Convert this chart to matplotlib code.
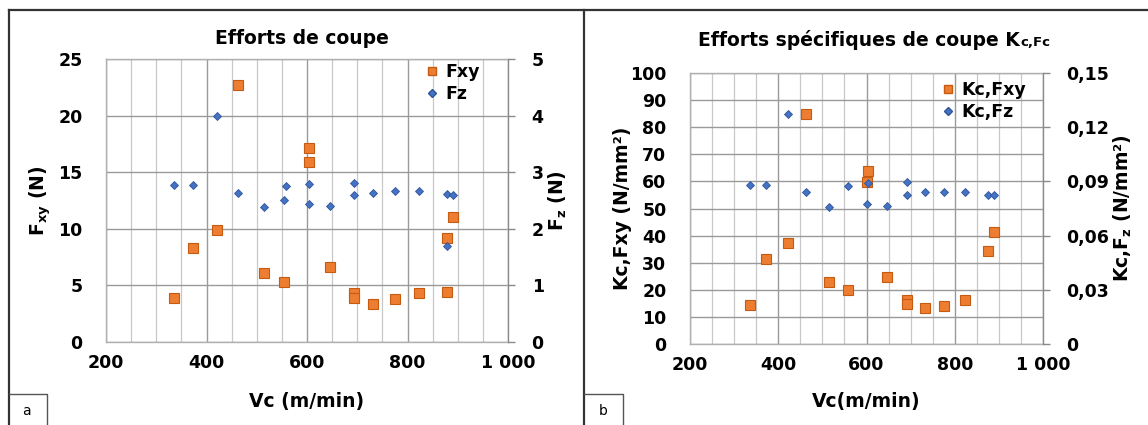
import numpy as np
import matplotlib
matplotlib.use("Agg")
import matplotlib.pyplot as plt
from matplotlib.ticker import FuncFormatter, MultipleLocator
from matplotlib.lines import Line2D

plt.rcParams['font.family'] = ['DejaVu Sans']
plt.rcParams['font.weight'] = 'bold'
plt.rcParams['axes.labelweight'] = 'bold'

# --- a) efforts de coupe
vc_fxy = [336, 373, 421, 463, 514, 555, 603, 603, 646, 693, 693, 732, 776, 823, 878, 879, 890]
fxy = [3.9, 8.3, 9.9, 22.7, 6.1, 5.3, 15.9, 17.1, 6.6, 4.3, 3.9, 3.4, 3.8, 4.3, 4.4, 9.2, 11.0]
vc_fz = [336, 373, 421, 463, 514, 555, 558, 603, 603, 646, 693, 693, 732, 776, 823, 878, 891, 878]
fz = [2.78, 2.78, 4.0, 2.64, 2.38, 2.51, 2.75, 2.79, 2.44, 2.40, 2.81, 2.59, 2.64, 2.66, 2.66, 2.61, 2.60, 1.69]

# --- b) efforts specifiques
vc_k = [336, 372, 422, 463, 514, 557, 601, 603, 646, 692, 692, 733, 776, 824, 876, 889]
kc_fxy = [14.4, 31.5, 37.2, 84.9, 22.8, 19.8, 59.7, 64.0, 24.8, 16.2, 14.6, 13.1, 14.2, 16.2, 34.3, 41.2]
vc_kz = [336, 372, 422, 463, 514, 557, 603, 601, 646, 692, 692, 733, 776, 824, 876, 889]
kc_fz = [0.0881, 0.0881, 0.1274, 0.0839, 0.0756, 0.0872, 0.0889, 0.0777, 0.0762, 0.0894, 0.0824,
         0.0839, 0.0843, 0.0843, 0.0822, 0.0822]

ORANGE = '#ED7D31'
ORANGE_E = '#C55A11'
BLUE = '#4472C4'
BLUE_E = '#2F5597'
FS = 12.5
LFS = 13.5

W, H = 1148, 425
fig = plt.figure(figsize=(W / 100, H / 100), dpi=100)


def px_axes(x0, x1, ytop, ybot):
    return fig.add_axes([x0 / W, (H - ybot) / H, (x1 - x0) / W, (ybot - ytop) / H])


def thousands(v, pos):
    v = int(round(v))
    if v >= 1000:
        return '%d %03d' % (v // 1000, v % 1000)
    return str(v)


def bold_ticks(ax):
    for lab in ax.get_xticklabels() + ax.get_yticklabels():
        lab.set_fontweight('bold')


def style_axes(ax, ymax, ymajor):
    ax.set_xlim(200, 1000)
    ax.set_ylim(0, ymax)
    ax.xaxis.set_major_locator(MultipleLocator(200))
    ax.xaxis.set_minor_locator(MultipleLocator(50))
    ax.yaxis.set_major_locator(MultipleLocator(ymajor))
    ax.xaxis.set_major_formatter(FuncFormatter(thousands))
    ax.grid(True, which='major', color='#9a9a9a', lw=1.0)
    ax.grid(True, which='minor', axis='x', color='#c8c8c8', lw=0.9)
    ax.set_axisbelow(True)
    for s in ax.spines.values():
        s.set_color('#b0b0b0')
        s.set_linewidth(1.0)
    ax.tick_params(axis='both', which='both', length=0, labelsize=FS)
    ax.tick_params(axis='y', pad=17)
    ax.tick_params(axis='x', pad=9)


def style_twin(tw):
    for s in tw.spines.values():
        s.set_visible(False)
    tw.spines['right'].set_visible(True)
    tw.spines['right'].set_color('#8a8a8a')
    tw.tick_params(axis='y', length=5, color='#8a8a8a', width=1.0, labelsize=FS, pad=12)


# ---------------- panel a
ax1 = px_axes(106, 508, 59, 342)
style_axes(ax1, 25, 5)
ax1.plot(vc_fxy, fxy, 's', color=ORANGE, mec=ORANGE_E, mew=0.8, ms=6.5, zorder=3)
tw1 = ax1.twinx()
tw1.set_ylim(0, 5)
tw1.yaxis.set_major_locator(MultipleLocator(1))
tw1.plot(vc_fz, fz, 'D', color=BLUE, mec=BLUE_E, mew=0.6, ms=4.5, zorder=3)
style_twin(tw1)
bold_ticks(ax1)
bold_ticks(tw1)
ax1.set_xlabel('Vc (m/min)', fontsize=LFS, va='center')
ax1.xaxis.set_label_coords(0.5, (342 - 402) / 283)
ax1.set_ylabel(r'F$_{\mathregular{xy}}$ (N)', fontsize=LFS, va='center')
ax1.yaxis.set_label_coords((40 - 106) / 402, 0.5)
tw1.set_ylabel(r'F$_{\mathregular{z}}$ (N)', fontsize=LFS, va='center', rotation=90)
tw1.yaxis.set_label_coords((558 - 106) / 402, 0.5)
fig.text(302 / W, 1 - 39 / H, 'Efforts de coupe', fontsize=LFS, ha='center', va='center')
h1 = [Line2D([], [], ls='none', marker='s', color=ORANGE, mec=ORANGE_E, ms=5.5),
      Line2D([], [], ls='none', marker='D', color=BLUE, mec=BLUE_E, ms=4)]
fig.legend(h1, ['Fxy', 'Fz'], loc='upper left', bbox_to_anchor=(426 / W, 1 - 63 / H),
           frameon=False, fontsize=FS, handlelength=0.7, handletextpad=0.4,
           labelspacing=0.25, borderpad=0, borderaxespad=0)

# ---------------- panel b
ax2 = px_axes(690, 1043, 73, 344)
style_axes(ax2, 100, 10)
ax2.plot(vc_k, kc_fxy, 's', color=ORANGE, mec=ORANGE_E, mew=0.8, ms=6.5, zorder=3)
tw2 = ax2.twinx()
tw2.set_ylim(0, 0.15)
tw2.yaxis.set_major_locator(MultipleLocator(0.03))
tw2.yaxis.set_major_formatter(FuncFormatter(lambda v, p: '0' if abs(v) < 1e-9 else ('%.2f' % v).replace('.', ',')))
tw2.plot(vc_kz, kc_fz, 'D', color=BLUE, mec=BLUE_E, mew=0.6, ms=4.5, zorder=3)
style_twin(tw2)
bold_ticks(ax2)
bold_ticks(tw2)
ax2.set_xlabel('Vc(m/min)', fontsize=LFS, va='center')
ax2.xaxis.set_label_coords(0.5, (344 - 402) / 271)
ax2.set_ylabel('Kc,Fxy (N/mm²)', fontsize=LFS, va='center')
ax2.yaxis.set_label_coords((623 - 690) / 353, 0.5)
tw2.set_ylabel(r'Kc,F$_{\mathregular{z}}$ (N/mm²)', fontsize=LFS, va='center', rotation=90)
tw2.yaxis.set_label_coords((1123 - 690) / 353, 0.5)
fig.text(1020 / W, 1 - 40 / H, 'Efforts spécifiques de coupe K', fontsize=LFS,
         ha='right', va='center')
fig.text(1020 / W, 1 - 43 / H, 'c,Fc', fontsize=9.5, ha='left', va='center')
h2 = [Line2D([], [], ls='none', marker='s', color=ORANGE, mec=ORANGE_E, ms=5.5),
      Line2D([], [], ls='none', marker='D', color=BLUE, mec=BLUE_E, ms=4)]
fig.legend(h2, ['Kc,Fxy', 'Kc,Fz'], loc='upper left', bbox_to_anchor=(942 / W, 1 - 81 / H),
           frameon=False, fontsize=FS, handlelength=0.7, handletextpad=0.4,
           labelspacing=0.25, borderpad=0, borderaxespad=0)


# ---------------- panel frames
def fline(xs, ys, lw=1.6, c='#333333'):
    fig.add_artist(Line2D([x / W for x in xs], [1 - y / H for y in ys], lw=lw, color=c))


fline([9, W], [10, 10])
fline([9, 9], [10, H])
fline([584, 584], [10, H])
fline([9, 47, 47], [394, 394, H], lw=1.0, c='#555555')
fline([584, 623, 623], [394, 394, H], lw=1.0, c='#555555')
fig.text(26 / W, 1 - 411 / H, 'a', fontsize=10, fontweight='normal', ha='center', va='center')
fig.text(603 / W, 1 - 411 / H, 'b', fontsize=10, fontweight='normal', ha='center', va='center')

fig.savefig('out.png', dpi=100)
